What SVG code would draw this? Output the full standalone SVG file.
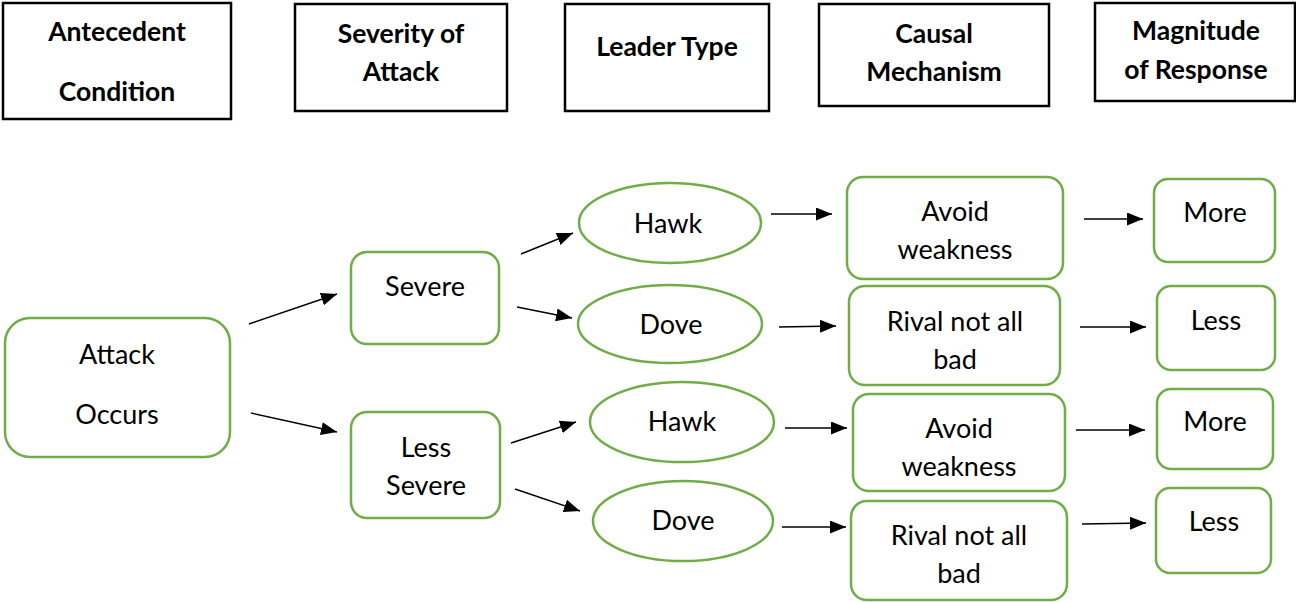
<svg xmlns="http://www.w3.org/2000/svg" width="1296" height="602" viewBox="0 0 1296 602">
<defs>
<marker id="ah" markerUnits="userSpaceOnUse" markerWidth="17" markerHeight="13" refX="16" refY="6.5" orient="auto">
<path d="M0,0 L16,6.5 L0,13 Z" fill="#000"/>
</marker>
<style>
.hdr{fill:#fff;stroke:#000;stroke-width:2.5}
.ht{font-family:Lato,"Liberation Sans",sans-serif;font-weight:bold;font-size:26.5px;fill:#000;text-anchor:middle;dominant-baseline:central}
.nd{fill:#fff;stroke:#70AD47;stroke-width:2.5}
.nt{font-family:Lato,"Liberation Sans",sans-serif;font-size:27px;fill:#000;text-anchor:middle;dominant-baseline:central}
.cn line{stroke:#000;stroke-width:1.4;marker-end:url(#ah)}
</style>
</defs>
<rect width="1296" height="602" fill="#fff"/>
<g id="h-antecedent"><rect class="hdr" x="3" y="3" width="228" height="116"/><text class="ht" x="117" y="31">Antecedent</text><text class="ht" x="117" y="91">Condition</text></g>
<g id="h-severity"><rect class="hdr" x="295" y="4" width="212" height="107"/><text class="ht" x="401" y="33">Severity of</text><text class="ht" x="401" y="71">Attack</text></g>
<g id="h-leader"><rect class="hdr" x="565" y="4" width="204" height="107"/><text class="ht" x="667" y="46">Leader Type</text></g>
<g id="h-causal"><rect class="hdr" x="819" y="4" width="230" height="102"/><text class="ht" x="934" y="33">Causal</text><text class="ht" x="934" y="71">Mechanism</text></g>
<g id="h-magnitude"><rect class="hdr" x="1095" y="3" width="200" height="98"/><text class="ht" x="1196" y="30">Magnitude</text><text class="ht" x="1196" y="69">of Response</text></g>

<g id="attack"><rect class="nd" x="5" y="318" width="225" height="139" rx="25"/><text class="nt" x="117" y="353">Attack</text><text class="nt" x="117" y="413">Occurs</text></g>
<g id="severe"><rect class="nd" x="351" y="252" width="148" height="92" rx="16"/><text class="nt" x="425" y="285">Severe</text></g>
<g id="less-severe"><rect class="nd" x="351" y="412" width="149" height="106" rx="16"/><text class="nt" x="426" y="446">Less</text><text class="nt" x="426" y="484">Severe</text></g>

<g id="hawk1"><ellipse class="nd" cx="670" cy="223" rx="91" ry="40"/><text class="nt" x="668" y="222">Hawk</text></g>
<g id="dove1"><ellipse class="nd" cx="670" cy="324" rx="92" ry="39"/><text class="nt" x="671" y="323">Dove</text></g>
<g id="hawk2"><ellipse class="nd" cx="682" cy="422" rx="92" ry="40"/><text class="nt" x="682" y="420">Hawk</text></g>
<g id="dove2"><ellipse class="nd" cx="683" cy="521" rx="90" ry="40"/><text class="nt" x="683" y="519">Dove</text></g>

<g id="avoid1"><rect class="nd" x="847" y="177" width="216" height="102" rx="16"/><text class="nt" x="955" y="210">Avoid</text><text class="nt" x="955" y="248">weakness</text></g>
<g id="rival1"><rect class="nd" x="849" y="286" width="211" height="99" rx="16"/><text class="nt" x="955" y="320">Rival not all</text><text class="nt" x="955" y="358">bad</text></g>
<g id="avoid2"><rect class="nd" x="853" y="394" width="212" height="97" rx="16"/><text class="nt" x="959" y="427">Avoid</text><text class="nt" x="959" y="465">weakness</text></g>
<g id="rival2"><rect class="nd" x="851" y="501" width="216" height="99" rx="16"/><text class="nt" x="959" y="534">Rival not all</text><text class="nt" x="959" y="572">bad</text></g>

<g id="more1"><rect class="nd" x="1154" y="179" width="121" height="83" rx="14"/><text class="nt" x="1215" y="211">More</text></g>
<g id="less1"><rect class="nd" x="1157" y="286" width="118" height="84" rx="14"/><text class="nt" x="1216" y="319">Less</text></g>
<g id="more2"><rect class="nd" x="1157" y="389" width="116" height="80" rx="14"/><text class="nt" x="1215" y="420">More</text></g>
<g id="less2"><rect class="nd" x="1156" y="488" width="115" height="85" rx="14"/><text class="nt" x="1214" y="520">Less</text></g>

<g id="connectors" class="cn">
<line x1="249" y1="324" x2="337" y2="294"/>
<line x1="251" y1="413" x2="337" y2="432"/>
<line x1="521" y1="254" x2="573" y2="233"/>
<line x1="517" y1="307" x2="572" y2="318"/>
<line x1="511" y1="443" x2="576" y2="422"/>
<line x1="515" y1="489" x2="580" y2="511"/>
<line x1="771" y1="214" x2="832" y2="214"/>
<line x1="779" y1="327" x2="836" y2="326"/>
<line x1="785" y1="428" x2="847" y2="428"/>
<line x1="782" y1="527" x2="846" y2="527"/>
<line x1="1084" y1="219" x2="1143" y2="219"/>
<line x1="1080" y1="327" x2="1146" y2="327"/>
<line x1="1076" y1="430" x2="1145" y2="430"/>
<line x1="1082" y1="524" x2="1146" y2="523"/>
</g>
</svg>
